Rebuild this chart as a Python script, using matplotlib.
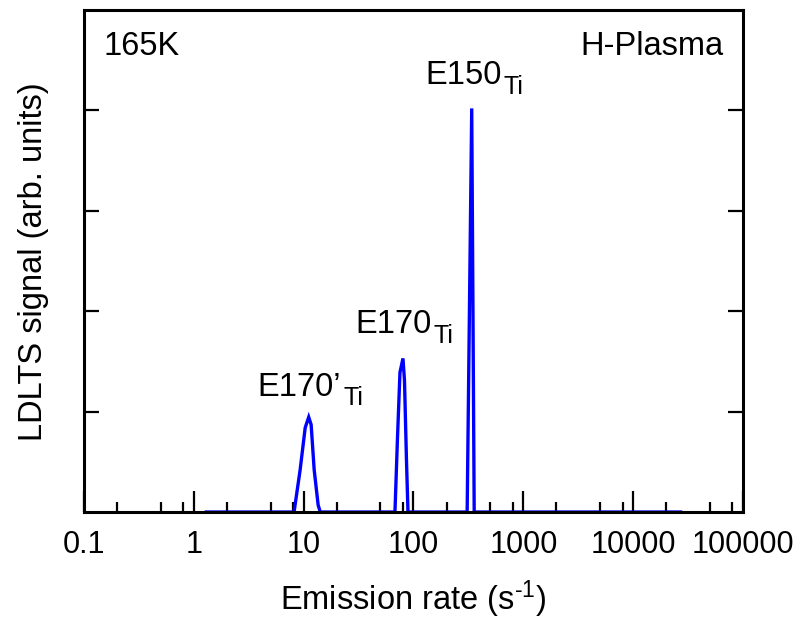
import matplotlib
matplotlib.use("Agg")
import matplotlib.pyplot as plt
from matplotlib.ticker import FixedLocator, NullFormatter

plt.rcParams.update({
    "font.family": ["Liberation Sans", "DejaVu Sans"],
    "mathtext.fontset": "custom",
    "mathtext.rm": "Liberation Sans",
    "mathtext.it": "Liberation Sans",
    "font.size": 23.5,
})

# LDLTS spectrum (rate in s^-1, signal in arb. units)
rate = [1.3, 8.18, 9.29, 10.33, 11.12, 11.7, 12.47, 13.55, 14.16,
        67.8, 71.4, 75.3, 80.2, 82.8, 86.3, 89.1,
        308, 339, 357, 27000]
signal = [0, 0, 0.42, 0.84, 0.945, 0.87, 0.42, 0.07, 0,
          0, 0.72, 1.39, 1.53, 1.31, 0.52, 0,
          0, 4.02, 0, 0]

x_major = [0.1, 1, 10, 100, 1000, 10000, 100000]
x_labels = ["0.1", "1", "10", "100", "1000", "10000", "100000"]
x_minor = [m * 10.0 ** e for e in range(-1, 5) for m in (2, 5, 8)]
y_major = [1, 2, 3, 4]

# peak labels: main text + subscript, anchored at (rate, signal)
peak_names = ["E170’", "E170", "E150"]
peak_sub = ["Ti", "Ti", "Ti"]
peak_x = [3.8, 29.5, 128]
peak_y = [1.16, 1.78, 4.26]

fig = plt.figure(figsize=(8.05, 6.21), dpi=100)
ax = fig.add_axes([0.1043, 0.1755, 0.8187, 0.8084])

ax.plot(rate, signal, color="#0000ff", linewidth=2.4, solid_joinstyle="miter")

ax.set_xscale("log")
ax.set_xlim(0.1, 100000)
ax.set_ylim(0, 5)

ax.xaxis.set_major_locator(FixedLocator(x_major))
ax.set_xticklabels(x_labels, fontsize=22)
ax.xaxis.set_minor_locator(FixedLocator(x_minor))
ax.xaxis.set_minor_formatter(NullFormatter())
ax.set_yticks(y_major)
ax.set_yticklabels([])

for s in ax.spines.values():
    s.set_linewidth(2.2)
ax.tick_params(axis="x", which="major", direction="in", length=15, width=1.6, pad=13)
ax.tick_params(axis="x", which="minor", direction="in", length=7.5, width=1.6)
ax.tick_params(axis="y", which="major", direction="in", length=11, width=1.6,
               left=True, right=True)

ax.set_xlabel("Emission rate (s$^{‐1}$)", labelpad=13)
ax.set_ylabel("LDLTS signal (arb. units)")
ax.yaxis.set_label_coords(-0.053, 0.499)

ax.text(0.030, 0.91, "165K", transform=ax.transAxes, ha="left", va="baseline")
ax.text(0.971, 0.91, "H-Plasma", transform=ax.transAxes, ha="right", va="baseline")
for name, sub, px, py in zip(peak_names, peak_sub, peak_x, peak_y):
    t = ax.text(px, py, name, ha="left", va="baseline")
    ax.annotate(sub, xy=(1, 0), xycoords=t, xytext=(1.5, -2),
                textcoords="offset points", ha="left", va="baseline", fontsize=18)

fig.savefig("out.png", dpi=100)
